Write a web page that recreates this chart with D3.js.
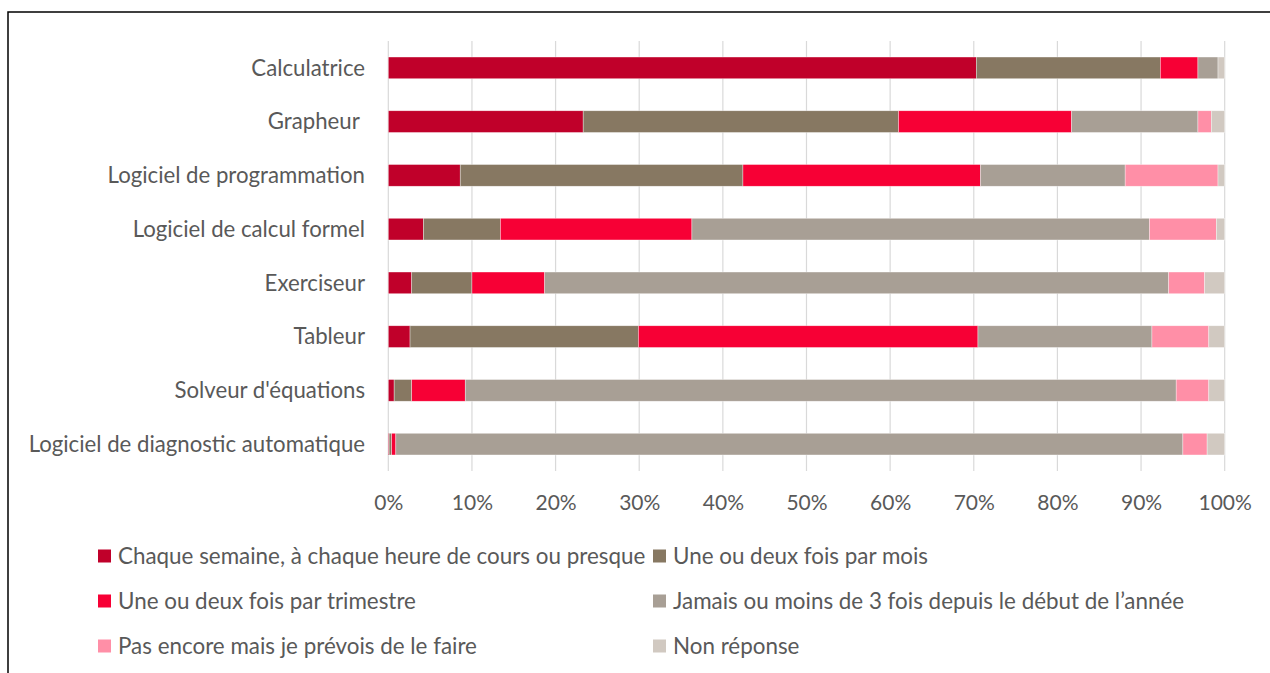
<!DOCTYPE html>
<html><head><meta charset="utf-8">
<script src="https://cdn.jsdelivr.net/npm/d3@7"></script>
<style>
body{margin:0;background:#fff;}
svg text{font-family:"Lato","Open Sans",sans-serif;fill:#595959;white-space:pre;}
</style></head>
<body><svg id="c" width="1270" height="673"></svg>
<script>
const categories = ["Calculatrice","Grapheur ","Logiciel de programmation","Logiciel de calcul formel","Exerciseur","Tableur","Solveur d'équations","Logiciel de diagnostic automatique"];
const seriesNames = ["Chaque semaine, à chaque heure de cours ou presque","Une ou deux fois par mois","Une ou deux fois par trimestre","Jamais ou moins de 3 fois depuis le début de l’année","Pas encore mais je prévois de le faire","Non réponse"];
const chaqueSemaine = [70.3, 23.3, 8.6, 4.2, 2.8, 2.6, 0.7, 0.1];
const moisFois      = [22.0, 37.7, 33.8, 9.2, 7.2, 27.3, 2.1, 0.3];
const trimestre     = [4.5, 20.7, 28.4, 22.9, 8.7, 40.6, 6.4, 0.5];
const jamais        = [2.4, 15.1, 17.3, 54.7, 74.6, 20.8, 85.0, 94.1];
const pasEncore     = [0.0, 1.6, 11.1, 8.0, 4.3, 6.8, 3.9, 2.9];
const nonReponse    = [0.8, 1.6, 0.8, 1.0, 2.4, 1.9, 1.9, 2.1];
const tickValues = [0,10,20,30,40,50,60,70,80,90,100];
const colors = ["#C0002A","#877862","#F70035","#A89F95","#FF8FA7","#D1C9C1"];

const seriesData = [chaqueSemaine, moisFois, trimestre, jamais, pasEncore, nonReponse];
const rows = categories.map((c,i)=>{const o={cat:c}; seriesNames.forEach((s,j)=>o[s]=seriesData[j][i]); return o;});
const stack = d3.stack().keys(seriesNames)(rows);

const svg = d3.select("#c");
// frame
svg.append("path").attr("d","M8,673 L8,12 L1270,12").attr("fill","none").attr("stroke","#000").attr("stroke-width",1.5);

const x = d3.scaleLinear().domain([0,100]).range([388.3,1224.7]);
const y = d3.scaleBand().domain(categories).range([41,471]).paddingInner(0.596).paddingOuter(0.298);

// gridlines
svg.append("g").selectAll("line").data(tickValues).join("line")
  .attr("x1",d=>x(d)).attr("x2",d=>x(d)).attr("y1",41).attr("y2",471)
  .attr("stroke","#D9D9D9").attr("stroke-width",1.2);

// bars
svg.append("g").selectAll("g").data(stack).join("g").attr("fill",(d,i)=>colors[i])
  .selectAll("rect").data(d=>d).join("rect")
  .attr("x",d=>x(d[0])).attr("width",d=>Math.max(0,x(d[1])-x(d[0])))
  .attr("y",d=>y(d.data.cat)).attr("height",y.bandwidth())
  .attr("stroke","#fff").attr("stroke-width",0.6).attr("stroke-opacity",0.6);

// y labels
svg.append("g").selectAll("text").data(categories).join("text")
  .attr("x",365).attr("y",d=>y(d)+y.bandwidth()/2).attr("dy","0.35em")
  .attr("text-anchor","end").attr("font-size",22.2).text(d=>d);

// x axis labels
const xAxis = d3.axisBottom(x).tickValues(tickValues).tickFormat(d=>d+"%").tickSize(0).tickPadding(0);
const gx = svg.append("g").attr("transform","translate(0,503)").call(xAxis);
gx.select(".domain").remove();
gx.selectAll("text").attr("font-size",21).attr("dy","0.35em").attr("font-family","Lato, 'Open Sans', sans-serif").attr("fill","#595959");

// legend
const legPos = [[98,556],[653,556],[98,601],[653,601],[98,646],[653,646]];
const leg = svg.append("g").selectAll("g").data(seriesNames).join("g")
  .attr("transform",(d,i)=>`translate(${legPos[i][0]},${legPos[i][1]})`);
leg.append("rect").attr("x",0).attr("y",-6.5).attr("width",13).attr("height",13).attr("fill",(d,i)=>colors[i]);
leg.append("text").attr("x",20).attr("dy","0.35em").attr("font-size",22.4).text(d=>d);
</script></body></html>
